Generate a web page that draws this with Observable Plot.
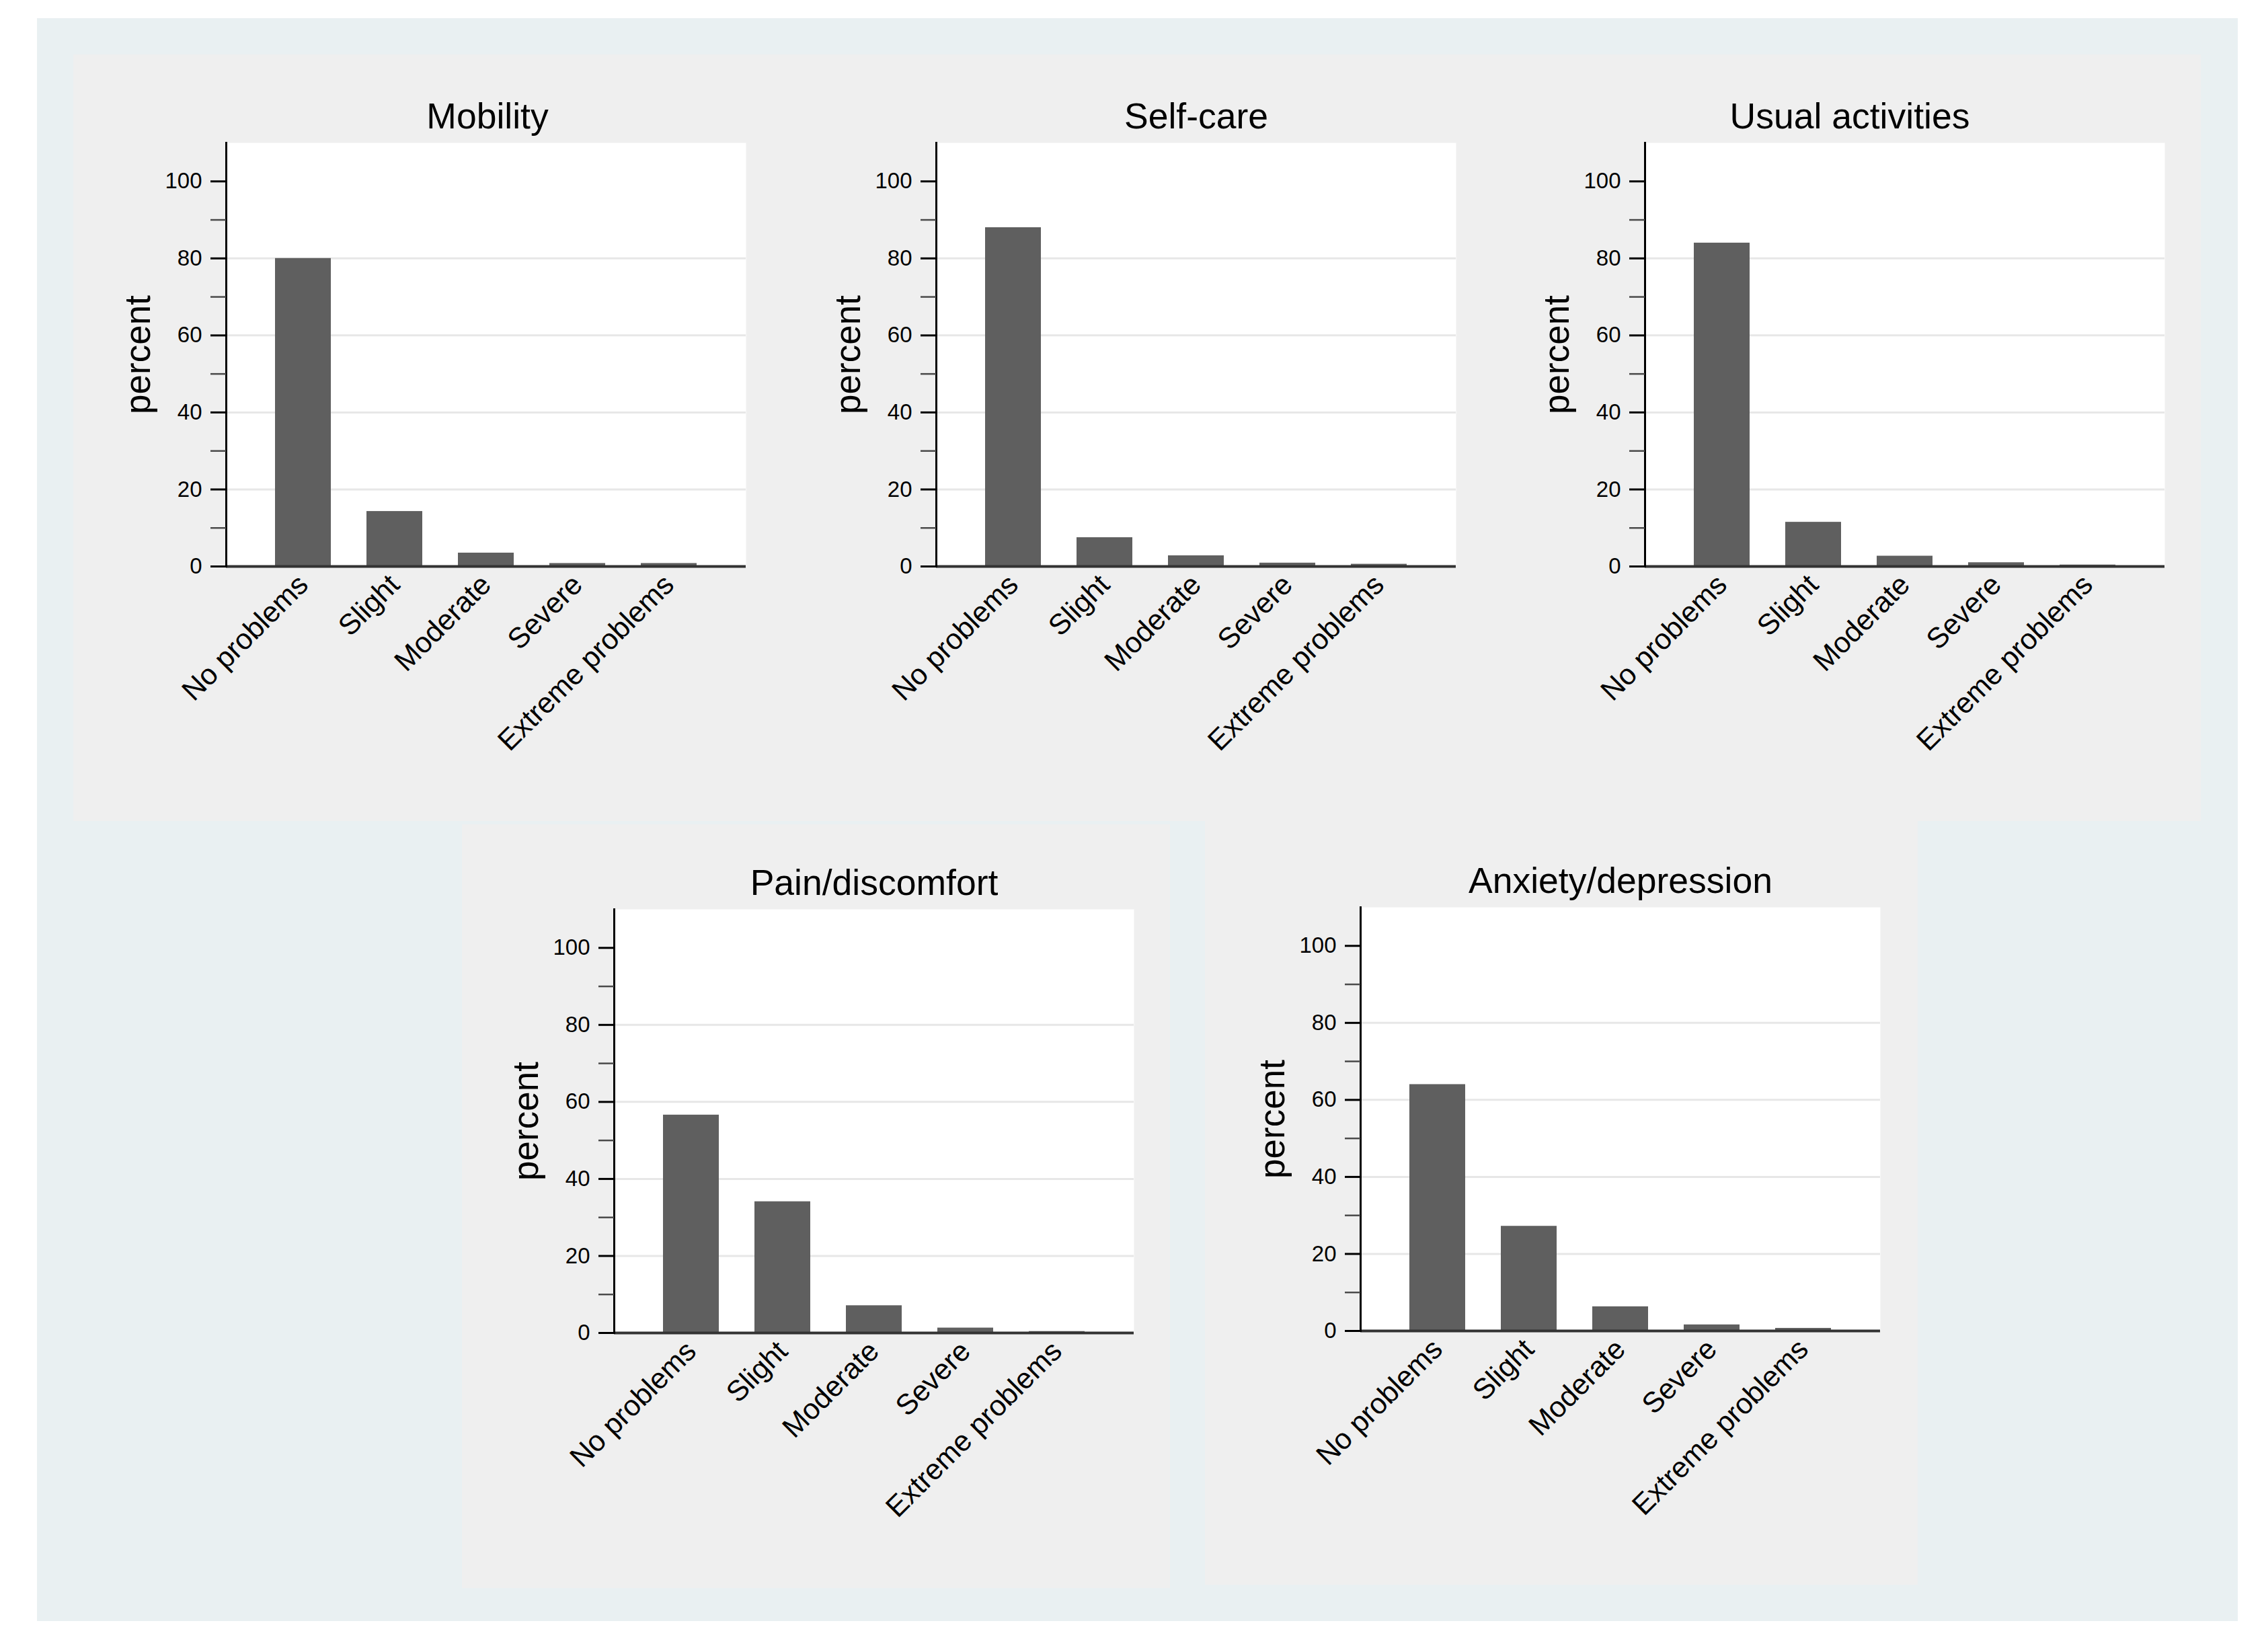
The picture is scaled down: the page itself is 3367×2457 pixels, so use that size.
<!DOCTYPE html>
<html><head><meta charset="utf-8">
<script src="https://cdn.jsdelivr.net/npm/d3@7"></script>
<script src="https://cdn.jsdelivr.net/npm/@observablehq/plot@0.6"></script>
<style>
html,body{margin:0;padding:0;background:#fff;}
#page{position:relative;width:3367px;height:2457px;overflow:hidden;font-family:"Liberation Sans",Arial,sans-serif;}
.bg{position:absolute;}
</style></head><body><div id="page">
<div class="bg" style="left:55px;top:27px;width:3273px;height:2384px;background:#e9f0f2"></div>
<div class="bg" style="left:109px;top:81px;width:3164px;height:1140px;background:#efefef"></div>
<div class="bg" style="left:687px;top:1226px;width:1053px;height:1136px;background:#efefef"></div>
<div class="bg" style="left:1792px;top:1219px;width:1060px;height:1138px;background:#efefef"></div>
</div>
<script>
// ---- data ----
const categories = ["No problems", "Slight", "Moderate", "Severe", "Extreme problems"];
const mobility = [80.0, 14.3, 3.5, 0.8, 0.8];
const selfCare = [88.0, 7.5, 2.8, 0.9, 0.6];
const usualActivities = [84.0, 11.5, 2.7, 1.0, 0.4];
const painDiscomfort = [56.6, 34.1, 7.1, 1.3, 0.4];
const anxietyDepression = [64.0, 27.2, 6.3, 1.6, 0.7];
const titles = ["Mobility", "Self-care", "Usual activities", "Pain/discomfort", "Anxiety/depression"];
const yLabel = "percent";
const majorTicks = [0, 20, 40, 60, 80, 100];
const minorTicks = [10, 30, 50, 70, 90];
const gridTicks = [20, 40, 60, 80];

// ---- layout (plot-frame left/top in page pixels, title horizontal shift) ----
const series = [mobility, selfCare, usualActivities, painDiscomfort, anxietyDepression];
const frames = [[336, 212], [1392, 212], [2446, 212], [913, 1352], [2023, 1349]];
const titleShift = [2, 0, -82, 0, 0];
const ML = 200, MR = 40, MT = 120, MB = 300, PW = 773, PH = 630;
const font = "'Liberation Sans', Arial, Helvetica, sans-serif";
const page = document.getElementById("page");

series.forEach((values, k) => {
  const data = categories.map((c, i) => ({category: c, percent: values[i]}));
  const chart = Plot.plot({
    width: ML + PW + MR, height: MT + PH + MB,
    marginLeft: ML, marginRight: MR, marginTop: MT, marginBottom: MB,
    style: {background: "transparent", fontFamily: font, color: "#000", overflow: "visible"},
    x: {domain: categories, paddingInner: 0.392, paddingOuter: 0.527, label: null},
    y: {domain: [0, 110], label: null},
    marks: [
      Plot.frame({fill: "#ffffff", stroke: null}),
      Plot.gridY(gridTicks, {stroke: "#e7e7e7", strokeOpacity: 1, strokeWidth: 3}),
      Plot.barY(data, {x: "category", y: "percent", fill: "#5f5f5f"}),
      Plot.ruleY([0], {stroke: "#333333", strokeWidth: 4}),
      Plot.frame({anchor: "left", stroke: "#000000", strokeWidth: 3}),
      Plot.axisY(minorTicks, {tickSize: 23, tickFormat: () => "", stroke: "#4a4a4a", strokeWidth: 2.5, label: null}),
      Plot.axisY(majorTicks, {tickSize: 23, tickPadding: 13, fontSize: 33, stroke: "#000", strokeWidth: 3, label: null}),
      Plot.axisX({tickSize: 0, tickRotate: -45, fontSize: 43, tickPadding: 20, label: null}),
      Plot.text([titles[k]], {frameAnchor: "top", textAnchor: "middle", lineAnchor: "bottom", dx: titleShift[k], dy: -22, fontSize: 53.5, fill: "#000"}),
      Plot.text([yLabel], {frameAnchor: "left", textAnchor: "middle", rotate: -90, dx: -130, fontSize: 53, fill: "#000"})
    ]
  });
  chart.style.position = "absolute";
  chart.style.left = (frames[k][0] - ML) + "px";
  chart.style.top = (frames[k][1] - MT) + "px";
  page.appendChild(chart);
});
</script>
</body></html>
